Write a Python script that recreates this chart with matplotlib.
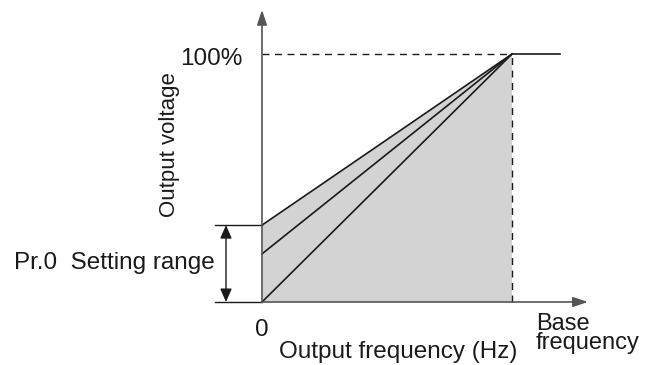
import matplotlib
matplotlib.use("Agg")
import matplotlib.pyplot as plt
from matplotlib.patches import Polygon, FancyArrowPatch

plt.rcParams['font.family'] = ['Liberation Sans', 'DejaVu Sans']

# V/f pattern: output voltage (fraction of 100%) at zero frequency for each boost setting
boost_levels = [0.31, 0.194, 0.0]
base_freq = 1.0
full_voltage = 1.0

fig = plt.figure(figsize=(6.58, 3.65), dpi=100)
ax = fig.add_axes([0, 0, 1, 1])
ax.set_xlim(-1.048, 1.584)
ax.set_ylim(-0.254, 1.2177)
ax.axis('off')

fs = 17.5
dark = '#1a1a1a'
axis_col = '#555555'

# shaded setting region
top = max(boost_levels)
ax.add_patch(Polygon([(0, 0), (0, top), (base_freq, full_voltage), (base_freq, 0)],
                     closed=True, facecolor='#d3d3d3', edgecolor='none', zorder=1))

# characteristic lines
for b in boost_levels:
    ax.plot([0, base_freq], [b, full_voltage], color=dark, lw=1.2, zorder=3)
ax.plot([base_freq, 1.192], [full_voltage, full_voltage], color=dark, lw=1.2, zorder=3)

# reference dashes
ax.plot([0, base_freq], [full_voltage, full_voltage], color=dark, lw=1.0,
        dashes=(5, 4), zorder=2)
ax.plot([base_freq, base_freq], [0, full_voltage], color=dark, lw=1.0,
        dashes=(5, 4), zorder=2)

# axes with arrowheads
ax.annotate('', xy=(0, 1.178), xytext=(0, 0),
            arrowprops=dict(arrowstyle='-|>,head_length=0.9,head_width=0.3',
                            color=axis_col, lw=1.2, shrinkA=0, shrinkB=0), zorder=4)
ax.annotate('', xy=(1.304, 0), xytext=(0, 0),
            arrowprops=dict(arrowstyle='-|>,head_length=0.9,head_width=0.3',
                            color=axis_col, lw=1.2, shrinkA=0, shrinkB=0), zorder=4)

# setting range bracket
ax.plot([-0.188, 0], [top, top], color=dark, lw=1.0, zorder=3)
ax.plot([-0.188, 0], [0, 0], color=dark, lw=1.0, zorder=3)
ax.add_patch(FancyArrowPatch((-0.144, top), (-0.144, 0),
                             arrowstyle='<|-|>,head_length=8,head_width=3.5',
                             color=dark, lw=1.0, shrinkA=0, shrinkB=0, zorder=3))

# labels
ax.text(-0.076, 0.956, '100%', ha='right', va='baseline', fontsize=fs, color=dark)
ax.text(-0.368, 0.633, 'Output voltage', ha='center', va='center', rotation=90,
        fontsize=16, color=dark)
ax.text(-0.188, 0.133, 'Pr.0  Setting range', ha='right', va='baseline',
        fontsize=fs, color=dark)
ax.text(0, -0.137, '0', ha='center', va='baseline', fontsize=fs, color=dark)
ax.text(0.544, -0.226, 'Output frequency (Hz)', ha='center', va='baseline',
        fontsize=fs, color=dark)
ax.text(1.096, -0.19, 'Base\nfrequency', ha='left', va='baseline', fontsize=17,
        color=dark, linespacing=0.84)

fig.savefig('out.png', dpi=100)
